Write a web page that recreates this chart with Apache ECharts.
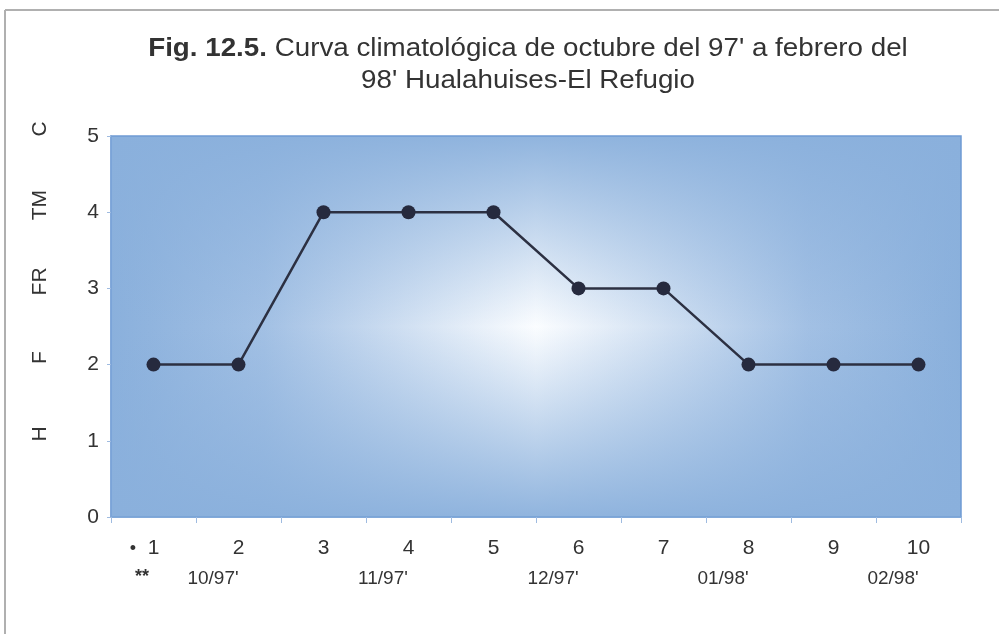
<!DOCTYPE html>
<html><head><meta charset="utf-8">
<script src="https://cdn.jsdelivr.net/npm/echarts@6/dist/echarts.min.js"></script>
<style>html,body{margin:0;padding:0;background:#fff}#c{width:999px;height:634px}</style>
</head><body><div id="c"></div>
<script>
const categories = ['1','2','3','4','5','6','7','8','9','10'];
const values = [2,2,4,4,4,3,3,2,2,2];
const months = ["10/97'","11/97'","12/97'","01/98'","02/98'"];
const levelNames = ['', 'H', 'F', 'FR', 'TM', 'C'];
const titleBold = 'Fig. 12.5.';
const titleRest = " Curva climatológica de octubre del 97' a febrero del";
const titleLine2 = "98' Hualahuises-El Refugio";

const G = {left:111, top:136, width:850, height:381};
const font = 'Liberation Sans, Arial, sans-serif';
const blue = '#8ab0dc';
const chart = echarts.init(document.getElementById('c'), null, {renderer:'canvas'});
chart.setOption({
  backgroundColor:'#fff',
  animation:false,
  grid:{left:G.left, top:G.top, width:G.width, height:G.height},
  graphic:[
    {type:'line', shape:{x1:5,y1:10,x2:999,y2:10}, style:{stroke:'#b0b0b0', lineWidth:2}},
    {type:'line', shape:{x1:5,y1:10,x2:5,y2:634}, style:{stroke:'#b0b0b0', lineWidth:2}},
    {type:'rect', z:-10, shape:{x:G.left,y:G.top,width:G.width,height:G.height},
     style:{fill:new echarts.graphic.LinearGradient(0,0,1,0,[
       {offset:0,color:blue},{offset:0.18,color:'#a2c0e4'},{offset:0.5,color:'#fbfdff'},{offset:0.82,color:'#a2c0e4'},{offset:1,color:blue}])}},
    {type:'rect', z:-9, shape:{x:G.left,y:G.top,width:G.width,height:G.height},
     style:{stroke:'#6f9bd3', lineWidth:1.5, fill:new echarts.graphic.LinearGradient(0,0,0,1,[
       {offset:0,color:'rgba(138,176,220,0.95)'},{offset:0.5,color:'rgba(138,176,220,0)'},{offset:1,color:'rgba(138,176,220,0.95)'}])}},
    {type:'text', x:528, y:33, scaleX:1.11, style:{
      text:'{b|'+titleBold+'}{n|'+titleRest+'}\n{n|'+titleLine2+'}',
      align:'center', fill:'#333',
      rich:{b:{fontFamily:font,fontWeight:'bold',fontSize:25,fill:'#333',lineHeight:32},
            n:{fontFamily:font,fontSize:25,fill:'#333',lineHeight:32}}}},
    {type:'text', x:133, y:549, style:{text:'•', font:'18px '+font, fill:'#333', align:'center', verticalAlign:'middle'}},
    {type:'text', x:142, y:577, style:{text:'**', font:'bold 18px '+font, fill:'#333', align:'center', verticalAlign:'middle'}}
  ],
  xAxis:[
    {type:'category', data:categories, position:'bottom', boundaryGap:true,
     axisLine:{lineStyle:{color:'#7ea6d8', width:1.5}},
     axisTick:{show:true, length:6, lineStyle:{color:'#9fbbe0'}},
     axisLabel:{fontSize:21, fontFamily:font, color:'#333', margin:21}},
    {type:'category', data:months, position:'bottom', offset:30, boundaryGap:true,
     axisLine:{show:false}, axisTick:{show:false},
     axisLabel:{fontSize:19, fontFamily:font, color:'#333', margin:22, padding:[0,0,0,34]}}
  ],
  yAxis:[
    {type:'value', min:0, max:5, interval:1,
     axisLine:{show:true, lineStyle:{color:'#7ea6d8', width:1.5}},
     axisTick:{show:true, length:4, lineStyle:{color:'#9fbbe0'}},
     splitLine:{show:false},
     axisLabel:{fontSize:21, fontFamily:font, color:'#333', margin:12}},
    {type:'value', min:0, max:5, interval:1, position:'left', offset:52,
     axisLine:{show:false}, axisTick:{show:false}, splitLine:{show:false},
     axisLabel:{fontSize:21, fontFamily:font, color:'#333', rotate:90, padding:[0,0,0,14],
       formatter:function(v){return levelNames[v]||'';}}}
  ],
  series:[{type:'line', data:values, symbol:'circle', symbolSize:14,
    itemStyle:{color:'#262a3e'}, lineStyle:{color:'#2c3042', width:2.5}, z:5}]
});
</script></body></html>
